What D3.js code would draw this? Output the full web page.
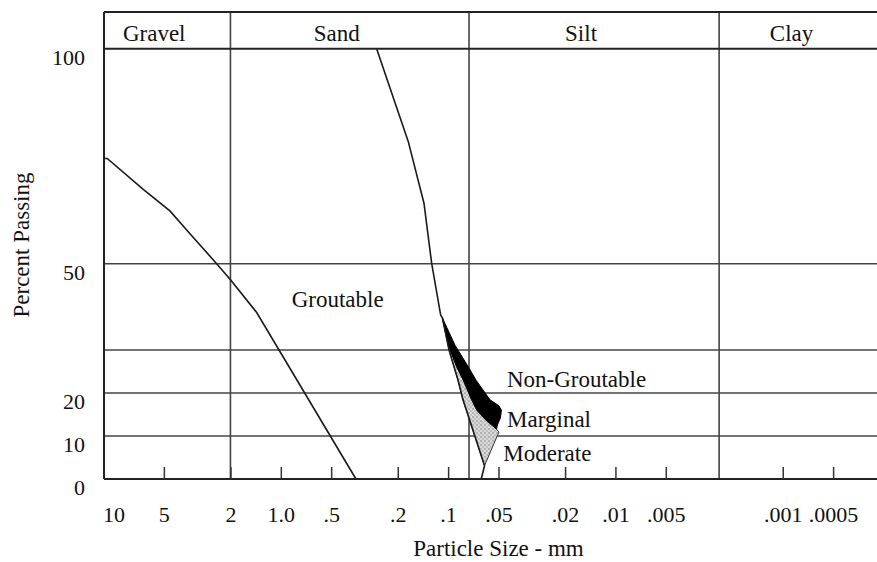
<!DOCTYPE html>
<html><head><meta charset="utf-8">
<script src="https://cdn.jsdelivr.net/npm/d3@7"></script>
<style>
body{margin:0;background:#fff}
svg{display:block}
text{font-family:"Liberation Serif","Times New Roman",serif;fill:#111}
</style>
</head><body>
<svg id="c" width="877" height="562"></svg>
<script>
// ---------- data ----------
const zoneNames = ["Gravel", "Sand", "Silt", "Clay"];
const zoneBounds = [2, 0.075, 0.0024];           // mm, boundaries between zones
const xTickValues = [10, 5, 2, 1, 0.5, 0.2, 0.1, 0.05, 0.02, 0.01, 0.005, 0.001, 0.0005];
const xTickLabels = ["10", "5", "2", "1.0", ".5", ".2", ".1", ".05", ".02", ".01", ".005", ".001", ".0005"];
const yTickValues = [0, 10, 20, 50, 100];
const yGridValues = [10, 20, 30, 50];

// coarse groutable limit (left curve)
const coarseSize = [11.4, 10.9, 6.64, 4.60, 3.49, 2.53, 2.01, 1.394, 0.3555];
const coarsePct  = [74.5, 74.5, 67.3, 62.3, 57.0, 50.9, 46.4, 38.7, 0];

// fine limit (right curve, continuing along the left edge of the shaded zone)
const fineSize = [0.2674, 0.1730, 0.1394, 0.1254, 0.1108, 0.1081, 0.0988, 0.0873, 0.0815, 0.0761, 0.0606, 0.0634];
const finePct  = [100, 78.4, 64.1, 50.1, 38.1, 37.4, 30.0, 23.0, 18.4, 14.9, 3.1, 0];

// boundary between marginal (black) and moderate (stippled)
const midSize = [0.1081, 0.0995, 0.0889, 0.0812, 0.0723, 0.0673, 0.0594, 0.0514];
const midPct  = [37.4, 31.1, 26.1, 23.0, 18.4, 16.0, 13.7, 11.6];

// outer boundary of the black zone (towards non-groutable)
const outerSize = [0.1081, 0.0910, 0.0756, 0.0682, 0.0562, 0.0497, 0.0480, 0.0487, 0.0507, 0.0514];
const outerPct  = [37.4, 31.1, 26.0, 23.0, 18.4, 17.0, 16.0, 14.2, 12.6, 11.6];

// lower edge of the stippled zone
const lowSize = [0.0514, 0.0497, 0.0606];
const lowPct  = [11.6, 10.9, 3.1];

// ---------- layout ----------
const frameLeft = 104, frameRight = 890, frameTop = 12, axisY = 479;
const svg = d3.select("#c");

const x = d3.scaleLog().domain([10, 0.0005]).range([113.5, 833.1]);
const y = d3.scaleLinear().domain([0, 100]).range([axisY, 48.7]);

const zip = (s, p) => s.map((v, i) => [v, p[i]]);
const line = d3.line().x(d => x(d[0])).y(d => y(d[1]));

// stipple pattern
const defs = svg.append("defs");
const pat = defs.append("pattern").attr("id", "stip").attr("patternUnits", "userSpaceOnUse")
  .attr("width", 4).attr("height", 4);
pat.append("rect").attr("width", 4).attr("height", 4).attr("fill", "#d9d9d9");
pat.append("circle").attr("cx", 1).attr("cy", 1).attr("r", 0.75).attr("fill", "#777");
pat.append("circle").attr("cx", 3).attr("cy", 3).attr("r", 0.65).attr("fill", "#909090");

// horizontal grid lines
svg.append("g").selectAll("line").data(yGridValues).join("line")
  .attr("x1", frameLeft).attr("x2", frameRight)
  .attr("y1", d => y(d)).attr("y2", d => y(d))
  .attr("stroke", "#444").attr("stroke-width", 1.5);

// zone boundary verticals
svg.append("g").selectAll("line").data(zoneBounds).join("line")
  .attr("x1", d => x(d)).attr("x2", d => x(d))
  .attr("y1", frameTop).attr("y2", axisY)
  .attr("stroke", "#444").attr("stroke-width", 1.6);

// shaded zones
const stipPts = zip(midSize, midPct)
  .concat(zip(lowSize, lowPct).slice(1))
  .concat(zip(fineSize, finePct).slice(5, 11).reverse());
svg.append("path").attr("d", line(stipPts) + "Z")
  .attr("fill", "url(#stip)").attr("stroke", "#333").attr("stroke-width", 1);

const blackPts = zip(outerSize, outerPct).concat(zip(midSize, midPct).reverse());
svg.append("path").attr("d", line(blackPts) + "Z")
  .attr("fill", "#000").attr("stroke", "#000").attr("stroke-width", 1);

// curves
svg.append("path").attr("d", line(zip(coarseSize, coarsePct)))
  .attr("fill", "none").attr("stroke", "#1a1a1a").attr("stroke-width", 1.6);
svg.append("path").attr("d", line(zip(fineSize, finePct)))
  .attr("fill", "none").attr("stroke", "#1a1a1a").attr("stroke-width", 1.6);

// frame lines
const frame = svg.append("g").attr("stroke", "#222").attr("stroke-width", 2);
frame.append("line").attr("x1", frameLeft).attr("x2", frameRight).attr("y1", frameTop).attr("y2", frameTop);
frame.append("line").attr("x1", frameLeft).attr("x2", frameRight).attr("y1", y(100)).attr("y2", y(100));
frame.append("line").attr("x1", frameLeft).attr("x2", frameRight).attr("y1", axisY).attr("y2", axisY);
frame.append("line").attr("x1", frameLeft).attr("x2", frameLeft).attr("y1", frameTop).attr("y2", axisY);

// zone header labels
const zoneEdges = [frameLeft].concat(zoneBounds.map(b => x(b))).concat([frameRight]);
svg.append("g").selectAll("text").data(zoneNames).join("text")
  .attr("x", (d, i) => (zoneEdges[i] + zoneEdges[i + 1]) / 2 - 13)
  .attr("y", 41).attr("text-anchor", "middle").attr("font-size", 23).text(d => d);

// x axis tick marks
const xTickMarks = svg.append("g").attr("transform", `translate(0,${axisY})`)
  .call(d3.axisBottom(x).tickValues(xTickValues.filter(v => v < 10)).tickSizeInner(-12).tickSizeOuter(0).tickFormat(""));
xTickMarks.select(".domain").remove();
xTickMarks.selectAll(".tick line").attr("stroke", "#333").attr("stroke-width", 1.5);

// x axis labels
const xLab = svg.append("g").attr("transform", `translate(0,${axisY})`)
  .call(d3.axisBottom(x).tickValues(xTickValues).tickSize(0).tickPadding(27)
    .tickFormat((d, i) => xTickLabels[i]));
xLab.select(".domain").remove();
xLab.selectAll("text").attr("font-size", 22).attr("font-family", "Liberation Serif").attr("fill", "#111").attr("dy", "0.71em");

// y axis labels
const yLab = svg.append("g").attr("transform", `translate(${frameLeft},0)`)
  .call(d3.axisLeft(y).tickValues(yTickValues).tickSize(0).tickPadding(19).tickFormat(d3.format("d")));
yLab.select(".domain").remove();
yLab.selectAll("text").attr("font-size", 22).attr("font-family", "Liberation Serif").attr("fill", "#111").attr("dy", "0.71em");

// axis titles
svg.append("text").attr("x", 498.5).attr("y", 556).attr("text-anchor", "middle")
  .attr("font-size", 23).text("Particle Size - mm");
svg.append("text").attr("transform", "translate(29,245) rotate(-90)").attr("text-anchor", "middle")
  .attr("font-size", 23).text("Percent Passing");

// annotations
const notes = [
  {t: "Groutable", s: 0.861, p: 40.0},
  {t: "Non-Groutable", s: 0.0445, p: 21.4},
  {t: "Marginal", s: 0.0444, p: 12.15},
  {t: "Moderate", s: 0.0468, p: 4.25}
];
svg.append("g").selectAll("text").data(notes).join("text")
  .attr("x", d => x(d.s)).attr("y", d => y(d.p)).attr("font-size", 23).text(d => d.t);
</script>
</body></html>
